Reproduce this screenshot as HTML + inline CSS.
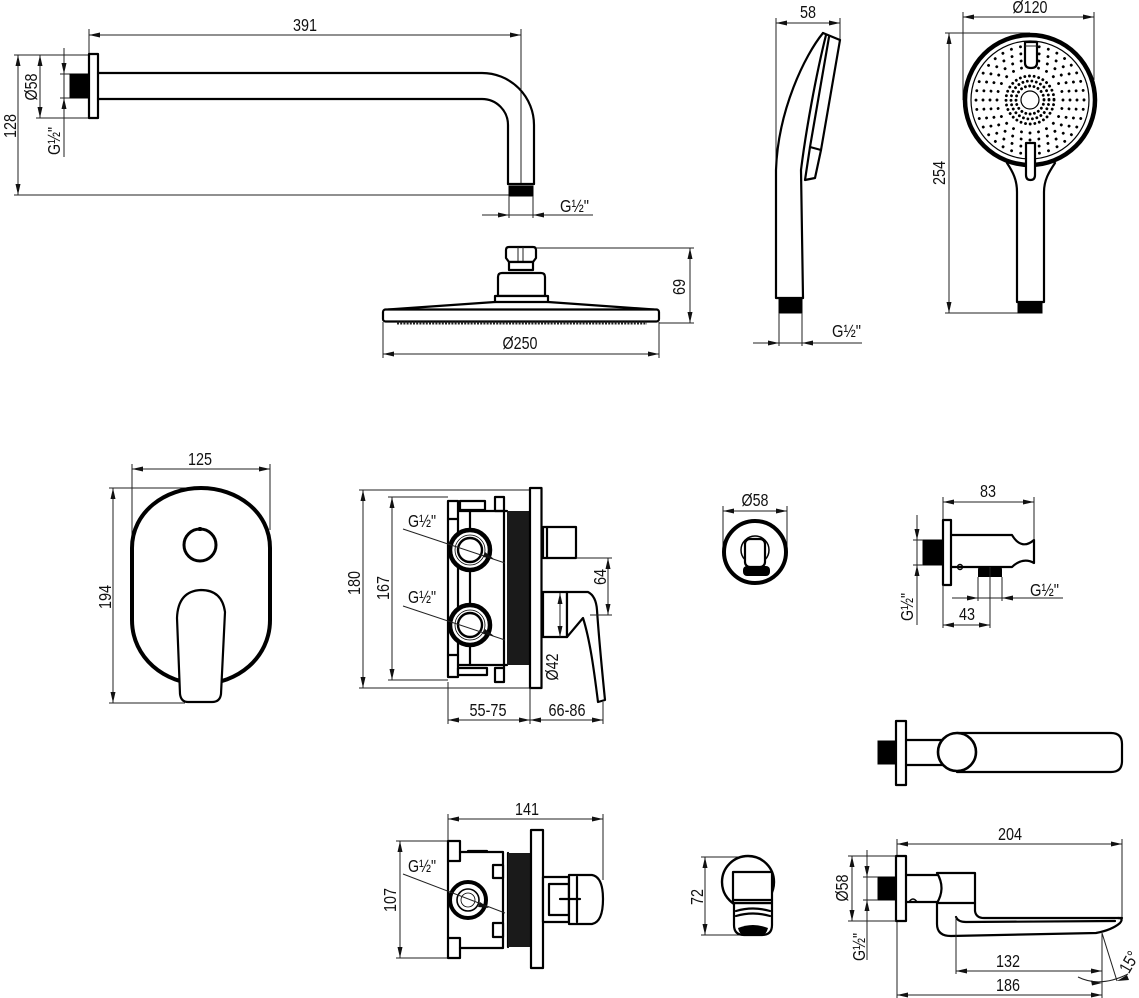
<!DOCTYPE html>
<html><head><meta charset="utf-8"><style>
html,body{margin:0;padding:0;background:#fff;}
svg{display:block}
.o{fill:none;stroke:#000;stroke-width:2.2;stroke-linejoin:round;stroke-linecap:round}
.w{fill:#fff;stroke:#000;stroke-width:2.2;stroke-linejoin:round}
.k{fill:#000;stroke:#000;stroke-width:1}
.d{fill:none;stroke:#222;stroke-width:1}
.ah{fill:#111}
text{font-family:"Liberation Sans Narrow","Liberation Sans",sans-serif;font-size:17.5px;fill:#111}
.dot{fill:none;stroke:#000;stroke-width:2.9;stroke-linecap:round;stroke-dasharray:0.001 0.999}
</style></head><body>
<svg width="1139" height="998" viewBox="0 0 1139 998" xmlns="http://www.w3.org/2000/svg">
<defs>
<marker id="a" viewBox="0 0 11 5" refX="11" refY="2.5" markerWidth="11" markerHeight="5" markerUnits="userSpaceOnUse" orient="auto-start-reverse"><path d="M0,0L11,2.5L0,5Z" fill="#111"/></marker>
</defs>

<!-- ================= SHOWER ARM ================= -->
<line class="d" x1="89" y1="29" x2="89" y2="54"/>
<line class="d" x1="521" y1="29" x2="521" y2="184"/>
<line class="d" x1="89" y1="35" x2="521" y2="35" marker-start="url(#a)" marker-end="url(#a)"/>
<text x="305" y="31" text-anchor="middle" textLength="24" lengthAdjust="spacingAndGlyphs">391</text>

<line class="d" x1="14" y1="55" x2="89" y2="55"/>
<line class="d" x1="14" y1="195" x2="509" y2="195"/>
<line class="d" x1="18" y1="55" x2="18" y2="195" marker-start="url(#a)" marker-end="url(#a)"/>
<g transform="translate(16,126) rotate(-90)"><text x="0" y="0" text-anchor="middle" textLength="24" lengthAdjust="spacingAndGlyphs">128</text></g>

<line class="d" x1="36" y1="118" x2="89" y2="118"/>
<line class="d" x1="40" y1="55" x2="40" y2="118" marker-start="url(#a)" marker-end="url(#a)"/>
<g transform="translate(37,87) rotate(-90)"><text x="0" y="0" text-anchor="middle" textLength="27" lengthAdjust="spacingAndGlyphs">Ø58</text></g>

<line class="d" x1="64" y1="48" x2="64" y2="157"/>
<line class="d" x1="60" y1="74" x2="70" y2="74"/>
<line class="d" x1="60" y1="98" x2="70" y2="98"/>
<polygon class="ah" points="61.5,63 66.5,63 64,74"/>
<polygon class="ah" points="61.5,109 66.5,109 64,98"/>
<g transform="translate(60,141) rotate(-90)"><text x="0" y="0" text-anchor="middle" textLength="28" lengthAdjust="spacingAndGlyphs">G½"</text></g>

<rect class="k" x="70" y="74" width="19" height="24"/>
<rect class="w" x="89" y="54" width="9" height="64" stroke-width="2.6"/>
<path class="o" d="M98,73 H482 A52,52 0 0 1 534,125 V184"/>
<path class="o" d="M98,99 H482 A26,26 0 0 1 508,125 V184"/>
<path class="o" d="M508,184 H534"/>
<rect class="k" x="509" y="186" width="24" height="10"/>

<line class="d" x1="509" y1="196" x2="509" y2="218"/>
<line class="d" x1="533" y1="196" x2="533" y2="218"/>
<line class="d" x1="482" y1="215" x2="593" y2="215"/>
<polygon class="ah" points="498,212.5 498,217.5 509,215"/>
<polygon class="ah" points="544,212.5 544,217.5 533,215"/>
<text x="560" y="212" textLength="29" lengthAdjust="spacingAndGlyphs">G½"</text>

<!-- ================= RAIN SHOWER HEAD ================= -->
<path class="w" d="M506,250 Q506,247 509,247 H533 Q536,247 536,250 V258 L533,262 H509 L506,258 Z"/>
<line class="d" x1="518" y1="247" x2="518" y2="262" stroke-width="1.4"/>
<line class="d" x1="523" y1="247" x2="523" y2="262" stroke-width="1.4"/>
<rect class="w" x="509" y="262" width="24" height="8" stroke-width="1.6"/>
<path class="w" d="M498,296 V277 Q498,273 502,273 H541 Q545,273 545,277 V296 Z"/>
<rect class="w" x="495" y="296" width="53" height="6" stroke-width="1.6"/>
<path class="o" d="M495,302 L388,309.5"/>
<path class="o" d="M548,302 L654,309.5"/>
<rect class="w" x="383" y="309.5" width="276" height="12" rx="2.5"/>
<line x1="397" y1="323" x2="647" y2="323" stroke="#222" stroke-width="3" stroke-dasharray="2 1.2"/>

<line class="d" x1="536" y1="248" x2="694" y2="248"/>
<line class="d" x1="659" y1="323" x2="694" y2="323"/>
<line class="d" x1="690" y1="248" x2="690" y2="323" marker-start="url(#a)" marker-end="url(#a)"/>
<g transform="translate(685,287) rotate(-90)"><text x="0" y="0" text-anchor="middle" textLength="16" lengthAdjust="spacingAndGlyphs">69</text></g>

<line class="d" x1="383" y1="322" x2="383" y2="358"/>
<line class="d" x1="659" y1="322" x2="659" y2="358"/>
<line class="d" x1="383" y1="354" x2="659" y2="354" marker-start="url(#a)" marker-end="url(#a)"/>
<text x="520" y="349" text-anchor="middle" textLength="35" lengthAdjust="spacingAndGlyphs">Ø250</text>

<!-- ================= HAND SHOWER SIDE ================= -->
<line class="d" x1="776" y1="18" x2="776" y2="160"/>
<line class="d" x1="840" y1="18" x2="840" y2="40"/>
<line class="d" x1="776" y1="23" x2="840" y2="23" marker-start="url(#a)" marker-end="url(#a)"/>
<text x="808" y="18" text-anchor="middle" textLength="16" lengthAdjust="spacingAndGlyphs">58</text>

<path class="o" d="M823,33 C805,55 778,110 776,170 V298 H803"/>
<path class="o" d="M826,35 C816,75 806,130 801,170 L803,298" stroke-width="1.6"/>
<path class="o" d="M823,33 L840,40" stroke-width="3.5"/>
<path class="o" d="M829,37 L810,147" stroke-width="1.3"/>
<path class="o" d="M840,40 L821,150" stroke-width="3"/>
<path class="w" d="M810,147 L821,150 L815,178 L805,180 Z" stroke-width="1.8"/>
<rect class="k" x="779" y="299" width="23" height="14"/>

<line class="d" x1="779" y1="313" x2="779" y2="346"/>
<line class="d" x1="802" y1="313" x2="802" y2="346"/>
<line class="d" x1="753" y1="343" x2="862" y2="343"/>
<polygon class="ah" points="768,340.5 768,345.5 779,343"/>
<polygon class="ah" points="813,340.5 813,345.5 802,343"/>
<text x="832" y="337" textLength="29" lengthAdjust="spacingAndGlyphs">G½"</text>

<!-- ================= HAND SHOWER FRONT ================= -->
<line class="d" x1="963" y1="12" x2="963" y2="100"/>
<line class="d" x1="1094" y1="12" x2="1094" y2="80"/>
<line class="d" x1="963" y1="17" x2="1094" y2="17" marker-start="url(#a)" marker-end="url(#a)"/>
<text x="1030" y="13" text-anchor="middle" textLength="35" lengthAdjust="spacingAndGlyphs">Ø120</text>

<line class="d" x1="945" y1="33" x2="1030" y2="33"/>
<line class="d" x1="945" y1="313" x2="1020" y2="313"/>
<line class="d" x1="949" y1="33" x2="949" y2="313" marker-start="url(#a)" marker-end="url(#a)"/>
<g transform="translate(945,173) rotate(-90)"><text x="0" y="0" text-anchor="middle" textLength="24" lengthAdjust="spacingAndGlyphs">254</text></g>

<path class="o" d="M1007,163 C1013,172 1017,180 1017,192 V302 H1044 V192 C1044,180 1049,172 1055,163" stroke-width="2.4"/>
<circle cx="1030" cy="100" r="65" fill="#fff" stroke="#000" stroke-width="4.5"/>
<circle cx="1030" cy="100" r="59" fill="none" stroke="#000" stroke-width="1.2"/>
<circle cx="1030" cy="100" r="9" fill="none" stroke="#000" stroke-width="1.2"/>
<circle class="dot" cx="1030" cy="100" r="14" pathLength="20"/>
<circle class="dot" cx="1030" cy="100" r="19" pathLength="26"/>
<circle class="dot" cx="1030" cy="100" r="24" pathLength="32"/>
<circle class="dot" cx="1030" cy="100" r="33" pathLength="24"/>
<circle class="dot" cx="1030" cy="100" r="40" pathLength="28"/>
<circle class="dot" cx="1030" cy="100" r="47" pathLength="32"/>
<circle class="dot" cx="1030" cy="100" r="54" pathLength="36"/>
<path class="w" d="M1025,42 V63 Q1025,68 1031,68 Q1037,68 1037,63 V42 Z" stroke-width="2.6"/>
<line class="d" x1="1025" y1="46" x2="1037" y2="46" stroke-width="1.4"/>
<path class="w" d="M1026,143 V175 Q1026,180 1030.5,180 Q1035,180 1035,175 V143 Z" stroke-width="2.6"/>
<rect class="k" x="1018" y="302" width="24" height="11"/>

<!-- ================= FACEPLATE ================= -->
<line class="d" x1="132" y1="464" x2="132" y2="560"/>
<line class="d" x1="270" y1="464" x2="270" y2="530"/>
<line class="d" x1="132" y1="469" x2="270" y2="469" marker-start="url(#a)" marker-end="url(#a)"/>
<text x="200" y="465" text-anchor="middle" textLength="24" lengthAdjust="spacingAndGlyphs">125</text>

<line class="d" x1="109" y1="488" x2="200" y2="488"/>
<line class="d" x1="109" y1="703" x2="185" y2="703"/>
<line class="d" x1="113" y1="488" x2="113" y2="703" marker-start="url(#a)" marker-end="url(#a)"/>
<g transform="translate(111,597) rotate(-90)"><text x="0" y="0" text-anchor="middle" textLength="24" lengthAdjust="spacingAndGlyphs">194</text></g>

<path d="M132,548 C132,512 165,488 201,488 C237,488 270,512 270,548 V620 C270,658 237,684 201,684 C165,684 132,658 132,620 Z" fill="none" stroke="#000" stroke-width="4"/>
<circle cx="200" cy="545" r="16" fill="none" stroke="#000" stroke-width="3"/>
<line x1="200" y1="527" x2="200" y2="531" stroke="#000" stroke-width="3"/>
<path class="w" d="M180,694 L177,618 Q178,591 201,590 Q222,590 225,612 L221,694 Q220,702 212,702 H188 Q181,702 180,694 Z" stroke-width="2.6"/>

<!-- ================= MIXER SIDE ================= -->
<line class="d" x1="359" y1="490" x2="541" y2="490"/>
<line class="d" x1="359" y1="688" x2="541" y2="688"/>
<line class="d" x1="363" y1="490" x2="363" y2="688" marker-start="url(#a)" marker-end="url(#a)"/>
<g transform="translate(360,583) rotate(-90)"><text x="0" y="0" text-anchor="middle" textLength="24" lengthAdjust="spacingAndGlyphs">180</text></g>

<line class="d" x1="388" y1="497" x2="448" y2="497"/>
<line class="d" x1="388" y1="680" x2="448" y2="680"/>
<line class="d" x1="392" y1="497" x2="392" y2="680" marker-start="url(#a)" marker-end="url(#a)"/>
<g transform="translate(389,588) rotate(-90)"><text x="0" y="0" text-anchor="middle" textLength="24" lengthAdjust="spacingAndGlyphs">167</text></g>

<rect class="w" x="448" y="501" width="10" height="18" stroke-width="2"/>
<rect class="w" x="448" y="655" width="10" height="22" stroke-width="2"/>
<line class="o" x1="448" y1="519" x2="448" y2="655" stroke-width="2"/>
<line class="o" x1="458" y1="519" x2="458" y2="655" stroke-width="2"/>
<rect class="w" x="460" y="501" width="25" height="9" stroke-width="1.8"/>
<rect class="w" x="495" y="497" width="9" height="14" stroke-width="2"/>
<line class="o" x1="458" y1="511" x2="507" y2="511" stroke-width="2"/>
<line class="o" x1="458" y1="665" x2="507" y2="665" stroke-width="2"/>
<rect class="w" x="495" y="668" width="9" height="14" stroke-width="2"/>
<rect class="w" x="458" y="668" width="29" height="7" stroke-width="1.8"/>
<line class="o" x1="504" y1="511" x2="504" y2="668" stroke-width="2"/>
<line class="o" x1="470" y1="511" x2="470" y2="665" stroke-width="1.8"/>
<rect x="507" y="511" width="23" height="154" fill="#1a1a1a"/>
<rect class="w" x="530" y="488" width="11.5" height="200" stroke-width="2.8"/>

<circle cx="470" cy="550" r="20" fill="#fff" stroke="#000" stroke-width="4.5"/>
<circle cx="470" cy="550" r="12" fill="none" stroke="#000" stroke-width="2.4"/>
<circle cx="470" cy="550" r="15" fill="none" stroke="#000" stroke-width="0.8"/>
<circle cx="470" cy="625" r="20" fill="#fff" stroke="#000" stroke-width="4.5"/>
<circle cx="470" cy="625" r="12" fill="none" stroke="#000" stroke-width="2.4"/>
<circle cx="470" cy="625" r="15" fill="none" stroke="#000" stroke-width="0.8"/>

<line class="d" x1="403" y1="529" x2="505" y2="563"/>
<polygon class="ah" points="485,552 494,559 483,557"/>
<text x="408" y="527" textLength="28" lengthAdjust="spacingAndGlyphs">G½"</text>
<line class="d" x1="403" y1="606" x2="505" y2="640"/>
<polygon class="ah" points="485,629 494,636 483,634"/>
<text x="408" y="603" textLength="28" lengthAdjust="spacingAndGlyphs">G½"</text>

<rect class="w" x="543" y="527" width="33" height="31" stroke-width="2.4"/>
<line class="o" x1="547" y1="527" x2="547" y2="558" stroke-width="1.4"/>
<rect class="w" x="543" y="592" width="24" height="45" stroke-width="2.4"/>
<path class="w" d="M567,592 L588,592 Q596,596 597,610 C599,640 603,680 605,700 L598,702 C594,670 590,640 583,618 L567,637 Z" stroke-width="2.4"/>

<line class="d" x1="576" y1="558" x2="612" y2="558"/>
<line class="d" x1="590" y1="615" x2="612" y2="615"/>
<line class="d" x1="608" y1="558" x2="608" y2="615" marker-start="url(#a)" marker-end="url(#a)"/>
<g transform="translate(606,577) rotate(-90)"><text x="0" y="0" text-anchor="middle" textLength="16" lengthAdjust="spacingAndGlyphs">64</text></g>

<line class="d" x1="560" y1="593" x2="560" y2="637" marker-start="url(#a)" marker-end="url(#a)"/>
<g transform="translate(558,667) rotate(-90)"><text x="0" y="0" text-anchor="middle" textLength="27" lengthAdjust="spacingAndGlyphs">Ø42</text></g>

<line class="d" x1="448" y1="682" x2="448" y2="724"/>
<line class="d" x1="530" y1="688" x2="530" y2="724"/>
<line class="d" x1="603" y1="702" x2="603" y2="724"/>
<line class="d" x1="448" y1="720" x2="530" y2="720" marker-start="url(#a)" marker-end="url(#a)"/>
<line class="d" x1="530" y1="720" x2="603" y2="720" marker-start="url(#a)" marker-end="url(#a)"/>
<text x="488" y="716" text-anchor="middle" textLength="37" lengthAdjust="spacingAndGlyphs">55-75</text>
<text x="567" y="716" text-anchor="middle" textLength="37" lengthAdjust="spacingAndGlyphs">66-86</text>

<!-- ================= WALL OUTLET FRONT ================= -->
<line class="d" x1="723" y1="506" x2="723" y2="552"/>
<line class="d" x1="787" y1="506" x2="787" y2="552"/>
<line class="d" x1="723" y1="511" x2="787" y2="511" marker-start="url(#a)" marker-end="url(#a)"/>
<text x="755" y="506" text-anchor="middle" textLength="27" lengthAdjust="spacingAndGlyphs">Ø58</text>
<circle cx="755" cy="552" r="31" fill="#fff" stroke="#000" stroke-width="4"/>
<circle cx="755" cy="550" r="14" fill="none" stroke="#000" stroke-width="1.5"/>
<rect class="w" x="745" y="539" width="20" height="28" rx="5" stroke-width="2"/>
<rect x="743" y="566" width="27" height="10" rx="4" fill="#000"/>

<!-- ================= WALL OUTLET SIDE ================= -->
<line class="d" x1="943" y1="497" x2="943" y2="520"/>
<line class="d" x1="1034" y1="497" x2="1034" y2="540"/>
<line class="d" x1="943" y1="502" x2="1034" y2="502" marker-start="url(#a)" marker-end="url(#a)"/>
<text x="988" y="497" text-anchor="middle" textLength="16" lengthAdjust="spacingAndGlyphs">83</text>

<rect class="k" x="923" y="540" width="20" height="25"/>
<rect class="w" x="943" y="520" width="8" height="65" stroke-width="2.4"/>
<path class="o" d="M951,535 H1012 C1019,547 1027,546 1034,540 V563 C1027,559 1019,560 1012,567 H951"/>
<circle cx="960" cy="567" r="2.5" fill="none" stroke="#000" stroke-width="1.4"/>
<path d="M978,577 V570 Q978,566 982,566 H998 Q1002,566 1002,570 V577 Z" fill="#000"/>

<line class="d" x1="917" y1="515" x2="917" y2="625"/>
<line class="d" x1="913" y1="540" x2="923" y2="540"/>
<line class="d" x1="913" y1="565" x2="923" y2="565"/>
<polygon class="ah" points="914.5,529 919.5,529 917,540"/>
<polygon class="ah" points="914.5,576 919.5,576 917,565"/>
<g transform="translate(913,607) rotate(-90)"><text x="0" y="0" text-anchor="middle" textLength="28" lengthAdjust="spacingAndGlyphs">G½"</text></g>

<line class="d" x1="978" y1="577" x2="978" y2="601"/>
<line class="d" x1="1002" y1="577" x2="1002" y2="601"/>
<line class="d" x1="990" y1="567" x2="990" y2="628"/>
<line class="d" x1="952" y1="598" x2="1063" y2="598"/>
<polygon class="ah" points="967,595.5 967,600.5 978,598"/>
<polygon class="ah" points="1013,595.5 1013,600.5 1002,598"/>
<text x="1030" y="596" textLength="29" lengthAdjust="spacingAndGlyphs">G½"</text>

<line class="d" x1="943" y1="585" x2="943" y2="628"/>
<line class="d" x1="943" y1="625" x2="990" y2="625" marker-start="url(#a)" marker-end="url(#a)"/>
<text x="967" y="620" text-anchor="middle" textLength="16" lengthAdjust="spacingAndGlyphs">43</text>

<!-- ================= TUB SPOUT TOP ================= -->
<rect class="k" x="878" y="741" width="18" height="23"/>
<rect class="w" x="896" y="721" width="10" height="64" stroke-width="2.6"/>
<line class="o" x1="906" y1="740" x2="945" y2="740"/>
<line class="o" x1="906" y1="765" x2="945" y2="765"/>
<path class="o" d="M957,733 H1111 Q1122,733 1122,744 V761 Q1122,772 1111,772 H957" stroke-width="2.6"/>
<circle cx="957" cy="752" r="19" fill="#fff" stroke="#000" stroke-width="2.6"/>

<!-- ================= TUB SPOUT SIDE ================= -->
<line class="d" x1="897" y1="839" x2="897" y2="999"/>
<line class="d" x1="1122" y1="839" x2="1122" y2="918"/>
<line class="d" x1="897" y1="844" x2="1122" y2="844" marker-start="url(#a)" marker-end="url(#a)"/>
<text x="1010" y="840" text-anchor="middle" textLength="24" lengthAdjust="spacingAndGlyphs">204</text>

<rect class="k" x="878" y="877" width="18" height="23"/>
<rect class="w" x="896" y="856" width="10" height="65" stroke-width="2.6"/>
<line class="o" x1="906" y1="875" x2="937" y2="875"/>
<line class="o" x1="906" y1="902" x2="937" y2="902"/>
<path d="M909,902 Q913,896 917,902" fill="none" stroke="#000" stroke-width="1.6"/>
<path class="o" d="M937,873 H975 V903 H937 Q946,888 937,873 Z" stroke-width="2.4"/>
<path class="o" d="M937,903 V924 Q937,936 951,936 L1096,933 Q1112,930 1120,923 Q1124,918 1118,918" stroke-width="2.4"/>
<path class="o" d="M975,903 V911 Q976,918 984,918 H1122" stroke-width="2.4"/>
<path class="o" d="M956,917 Q958,922 966,922 L1115,921" stroke-width="1.6"/>

<line class="d" x1="848" y1="856" x2="896" y2="856"/>
<line class="d" x1="848" y1="921" x2="896" y2="921"/>
<line class="d" x1="852" y1="856" x2="852" y2="921" marker-start="url(#a)" marker-end="url(#a)"/>
<g transform="translate(848,888) rotate(-90)"><text x="0" y="0" text-anchor="middle" textLength="27" lengthAdjust="spacingAndGlyphs">Ø58</text></g>

<line class="d" x1="867" y1="850" x2="867" y2="960"/>
<line class="d" x1="863" y1="877" x2="878" y2="877"/>
<line class="d" x1="863" y1="900" x2="878" y2="900"/>
<polygon class="ah" points="864.5,866 869.5,866 867,877"/>
<polygon class="ah" points="864.5,911 869.5,911 867,900"/>
<g transform="translate(865,947) rotate(-90)"><text x="0" y="0" text-anchor="middle" textLength="28" lengthAdjust="spacingAndGlyphs">G½"</text></g>

<line class="d" x1="956" y1="917" x2="956" y2="974"/>
<line class="d" x1="1102" y1="933" x2="1102" y2="998"/>
<line class="d" x1="956" y1="971" x2="1102" y2="971" marker-start="url(#a)" marker-end="url(#a)"/>
<text x="1008" y="967" text-anchor="middle" textLength="24" lengthAdjust="spacingAndGlyphs">132</text>
<line class="d" x1="897" y1="995" x2="1102" y2="995" marker-start="url(#a)" marker-end="url(#a)"/>
<text x="1008" y="991" text-anchor="middle" textLength="24" lengthAdjust="spacingAndGlyphs">186</text>

<line class="d" x1="1102" y1="933" x2="1117" y2="981"/>
<path class="d" d="M1078,977 Q1100,988 1128,974"/>
<polygon class="ah" points="1091,980.5 1092,985.5 1102,983"/>
<polygon class="ah" points="1127,975 1129,980 1117,981"/>
<g transform="translate(1129,962) rotate(-60)"><text x="0" y="6" text-anchor="middle" textLength="22" lengthAdjust="spacingAndGlyphs">15°</text></g>

<!-- ================= MIXER 2 ================= -->
<line class="d" x1="448" y1="814" x2="448" y2="841"/>
<line class="d" x1="603" y1="814" x2="603" y2="880"/>
<line class="d" x1="448" y1="819" x2="603" y2="819" marker-start="url(#a)" marker-end="url(#a)"/>
<text x="527" y="815" text-anchor="middle" textLength="24" lengthAdjust="spacingAndGlyphs">141</text>

<line class="d" x1="396" y1="841" x2="448" y2="841"/>
<line class="d" x1="396" y1="958" x2="448" y2="958"/>
<line class="d" x1="400" y1="841" x2="400" y2="958" marker-start="url(#a)" marker-end="url(#a)"/>
<g transform="translate(396,900) rotate(-90)"><text x="0" y="0" text-anchor="middle" textLength="24" lengthAdjust="spacingAndGlyphs">107</text></g>

<rect class="w" x="448" y="841" width="12" height="20" stroke-width="2"/>
<rect class="w" x="448" y="938" width="12" height="20" stroke-width="2"/>
<line class="o" x1="448" y1="861" x2="448" y2="938" stroke-width="2"/>
<path class="o" d="M460,852 H503 V948 H460" stroke-width="2"/>
<line class="o" x1="468" y1="851" x2="487" y2="851" stroke-width="3"/>
<rect class="w" x="493" y="865" width="10" height="13" stroke-width="1.8"/>
<rect class="w" x="493" y="923" width="10" height="14" stroke-width="1.8"/>
<line class="o" x1="508" y1="853" x2="508" y2="947" stroke-width="1.8"/>
<rect x="508" y="853" width="22" height="94" fill="#1a1a1a"/>
<rect class="w" x="531" y="830" width="12" height="138" stroke-width="2.6"/>
<rect class="w" x="543" y="877" width="26" height="45" stroke-width="2"/>
<rect class="o" x="549" y="884" width="20" height="31" stroke-width="1.2"/>
<path class="w" d="M569,875 H592 Q603,877 603,899 Q603,922 592,924 H569 Z" stroke-width="2.4"/>
<line class="o" x1="577" y1="877" x2="577" y2="922" stroke-width="1.4"/>
<line class="o" x1="560" y1="899" x2="580" y2="899" stroke-width="1.4"/>

<circle cx="468" cy="900" r="18" fill="#fff" stroke="#000" stroke-width="4"/>
<circle cx="468" cy="900" r="11" fill="none" stroke="#000" stroke-width="1.6"/>
<circle cx="468" cy="900" r="7" fill="none" stroke="#000" stroke-width="0.8"/>
<line class="d" x1="403" y1="874" x2="505" y2="913"/>
<polygon class="ah" points="480,902 489,908 478,907"/>
<text x="408" y="872" textLength="28" lengthAdjust="spacingAndGlyphs">G½"</text>

<!-- ================= SMALL COVER ================= -->
<line class="d" x1="701" y1="857" x2="748" y2="857"/>
<line class="d" x1="701" y1="935" x2="740" y2="935"/>
<line class="d" x1="705" y1="857" x2="705" y2="935" marker-start="url(#a)" marker-end="url(#a)"/>
<g transform="translate(703,897) rotate(-90)"><text x="0" y="0" text-anchor="middle" textLength="16" lengthAdjust="spacingAndGlyphs">72</text></g>

<circle cx="748" cy="882" r="26" fill="#fff" stroke="#000" stroke-width="2.4"/>
<path class="w" d="M734,903 V925 Q734,935 744,935 H762 Q772,935 772,925 V903 Z" stroke-width="2"/>
<path class="o" d="M736,911 Q753,906 770,911" stroke-width="1.6"/>
<path class="o" d="M736,916 Q753,911 770,916" stroke-width="1.6"/>
<path d="M738,928 Q753,922 768,928 Q766,936 760,936 H746 Q740,936 738,928 Z" fill="#000"/>
<rect class="w" x="733" y="872" width="39" height="31" stroke-width="2.6"/>
<line class="o" x1="733" y1="900" x2="772" y2="900" stroke-width="1.4"/>

</svg>
</body></html>
